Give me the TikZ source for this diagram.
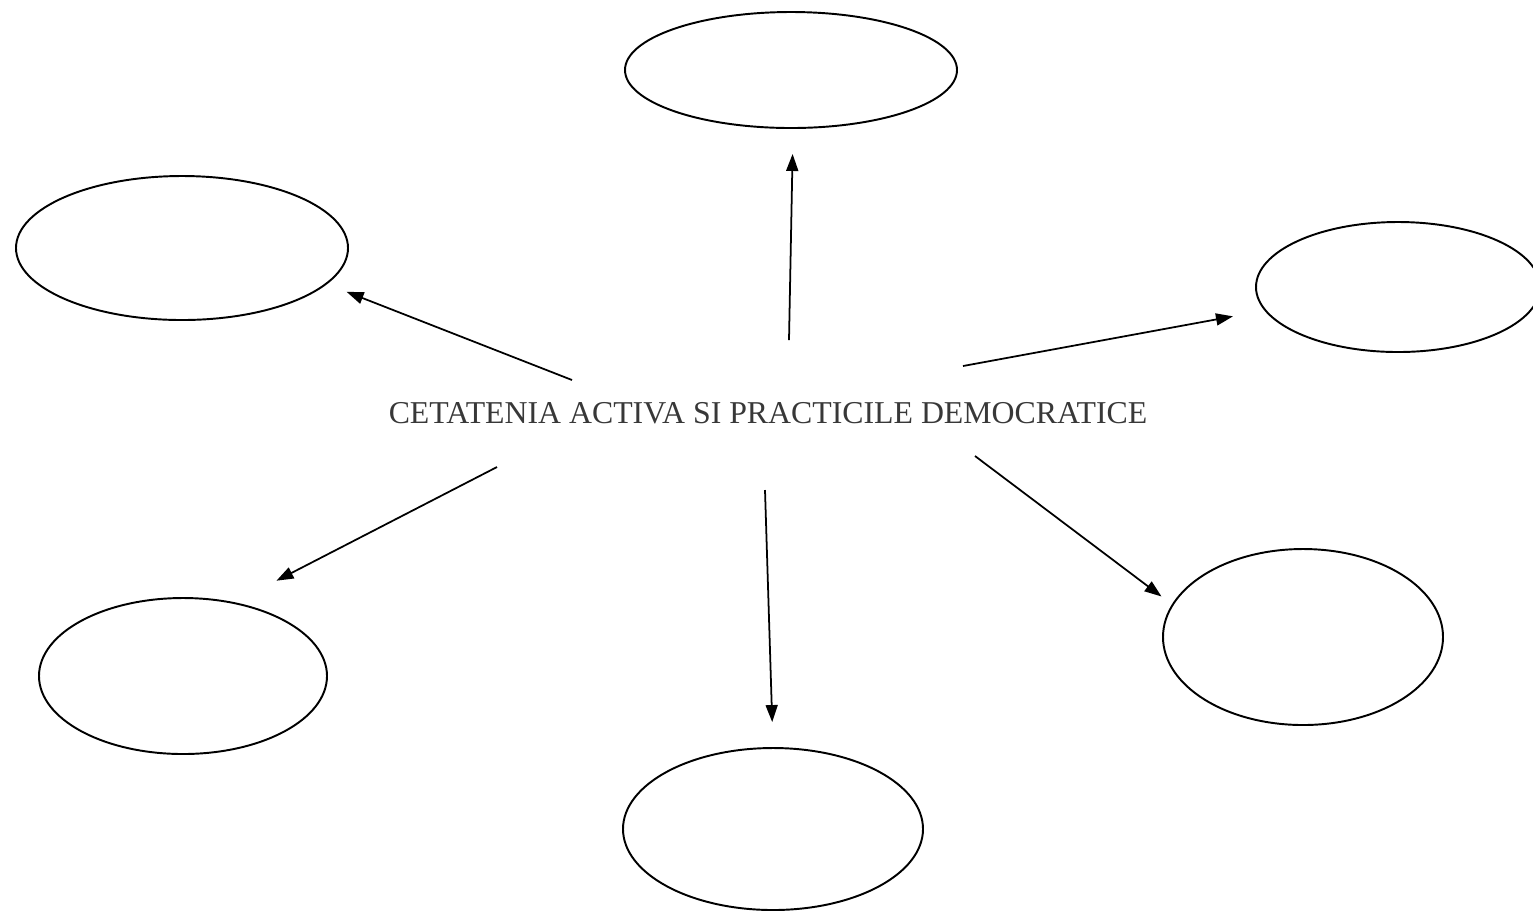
\documentclass[tikz,border=0pt]{standalone}
\usepackage{fontspec}
\setmainfont{Liberation Serif}
\usetikzlibrary{arrows.meta,shapes.geometric}

\begin{document}
\begin{tikzpicture}
\useasboundingbox (0,0) rectangle (15.33,-9.11);

\begin{scope}[every node/.style={ellipse,draw,line width=0.55pt,inner sep=0pt}]
    \node[minimum width=3.32cm,minimum height=1.16cm] (A) at (7.91,-0.70) {};
    \node[minimum width=3.32cm,minimum height=1.44cm] (B) at (1.82,-2.48) {};
    \node[minimum width=2.84cm,minimum height=1.30cm] (C) at (13.98,-2.87) {};
    \node[minimum width=2.88cm,minimum height=1.56cm] (D) at (1.83,-6.76) {};
    \node[minimum width=3.00cm,minimum height=1.62cm] (E) at (7.73,-8.29) {};
    \node[minimum width=2.80cm,minimum height=1.76cm] (F) at (13.03,-6.37) {};
\end{scope}

\node[text=black!78,font=\fontsize{9.05}{11}\selectfont] (T) at (7.68,-4.13) {CETATENIA ACTIVA SI PRACTICILE DEMOCRATICE};

% tails of the arrows
\coordinate (a) at (7.89,-3.40);
\coordinate (b) at (5.72,-3.80);
\coordinate (c) at (9.63,-3.66);
\coordinate (d) at (4.97,-4.67);
\coordinate (e) at (7.65,-4.90);
\coordinate (f) at (9.75,-4.56);

\begin{scope}[>={Triangle[length=0.17cm,width=0.12cm]},
              every path/.style={draw,line width=0.5pt}]
    \path [->,shorten >=0.25cm] (a) -- (A.-88);
    \path [->,shorten >=0.21cm] (b) -- (B.-14);
    \path [->,shorten >=0.32cm] (c) -- (C.190);
    \path [->,shorten >=0.47cm] (d) -- (D.55);
    \path [->,shorten >=0.25cm] (e) -- (E.north);
    \path [->,shorten >=0.13cm] (f) -- (F.166);
\end{scope}
\end{tikzpicture}
\end{document}
